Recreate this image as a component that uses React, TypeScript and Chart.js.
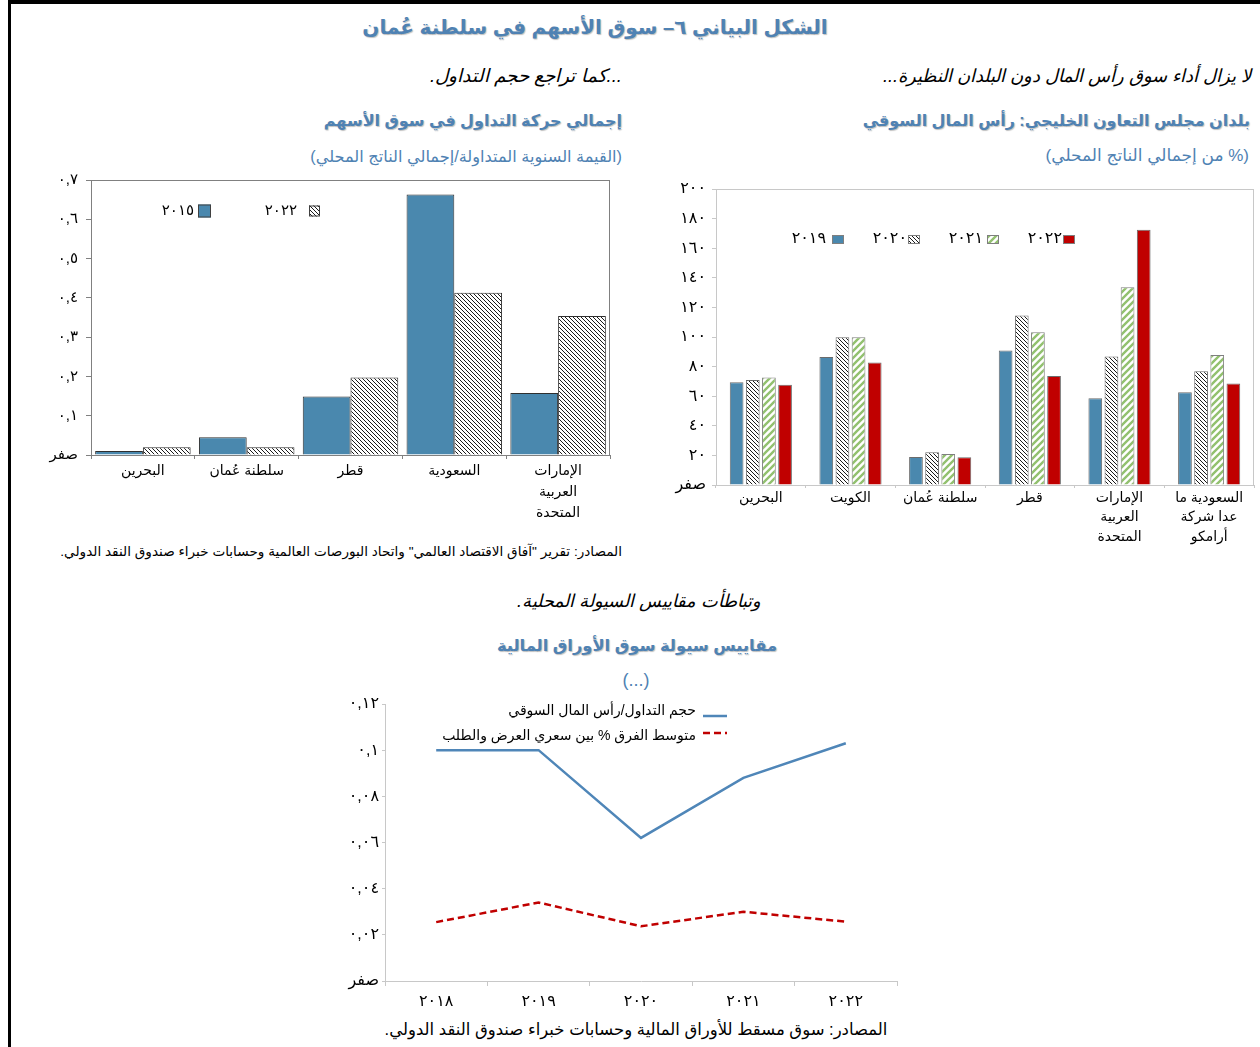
import React, { useEffect, useRef } from 'react';
import { Chart, registerables } from 'chart.js';

Chart.register(...registerables);

const FONT = "Arial, 'DejaVu Sans', sans-serif";

// ---------- Data ----------
const LEFT_CATEGORIES = [['البحرين'], ['سلطنة عُمان'], ['قطر'], ['السعودية'], ['الإمارات', 'العربية', 'المتحدة']];
const LEFT_SERIES = ['٢٠١٥', '٢٠٢٢'];
const LEFT_2015 = [0.01, 0.045, 0.149, 0.663, 0.158];
const LEFT_2022 = [0.02, 0.02, 0.197, 0.413, 0.354];
const LEFT_MAX = 0.7;
const LEFT_STEP = 0.1;

const RIGHT_CATEGORIES = [
  ['البحرين'],
  ['الكويت'],
  ['سلطنة عُمان'],
  ['قطر'],
  ['الإمارات', 'العربية', 'المتحدة'],
  ['السعودية ما', 'عدا شركة', 'أرامكو'],
];
const RIGHT_SERIES = ['٢٠١٩', '٢٠٢٠', '٢٠٢١', '٢٠٢٢'];
const RIGHT_2019 = [69.4, 86.5, 18.9, 90.8, 58.6, 62.6];
const RIGHT_2020 = [70.9, 99.8, 22.1, 114.6, 86.9, 76.8];
const RIGHT_2021 = [72.7, 99.8, 20.9, 103.2, 133.6, 87.8];
const RIGHT_2022 = [67.8, 82.7, 18.7, 73.6, 172.5, 68.5];
const RIGHT_MAX = 200;
const RIGHT_STEP = 20;

const LINE_YEARS = ['٢٠١٨', '٢٠١٩', '٢٠٢٠', '٢٠٢١', '٢٠٢٢'];
const LINE_SERIES = ['حجم التداول/رأس المال السوقي', 'متوسط الفرق % بين سعري العرض والطلب'];
const LINE_TURNOVER = [0.1, 0.1, 0.062, 0.088, 0.103];
const LINE_SPREAD = [0.0255, 0.034, 0.0237, 0.03, 0.0257];
const LINE_MAX = 0.12;
const LINE_STEP = 0.02;

// ---------- Helpers ----------
const AR_DIGITS = '٠١٢٣٤٥٦٧٨٩';
const toArabic = (s: string) => s.replace(/[0-9]/g, (d) => AR_DIGITS[+d]).replace('.', ',');

const BLUE_BAR = '#4a88ae';
const RED_BAR = '#c00000';
const TITLE_BLUE = '#4f82b3';

function hatch(bg: string, fg: string, size: number, lw: number, dir: 'back' | 'fwd') {
  const c = document.createElement('canvas');
  c.width = size;
  c.height = size;
  const x = c.getContext('2d')!;
  x.fillStyle = bg;
  x.fillRect(0, 0, size, size);
  x.strokeStyle = fg;
  x.lineWidth = lw;
  x.beginPath();
  for (const k of [-size, 0, size]) {
    if (dir === 'back') {
      x.moveTo(k - 1, -1);
      x.lineTo(k + size + 1, size + 1);
    } else {
      x.moveTo(k - 1, size + 1);
      x.lineTo(k + size + 1, -1);
    }
  }
  x.stroke();
  const ctx = document.createElement('canvas').getContext('2d')!;
  return ctx.createPattern(c, 'repeat')!;
}

const framePlugin = (color: string) => ({
  id: 'frame',
  beforeDatasetsDraw(chart: any) {
    const { ctx, chartArea: a } = chart;
    ctx.save();
    ctx.strokeStyle = color;
    ctx.lineWidth = 1;
    ctx.strokeRect(Math.round(a.left) + 0.5, Math.round(a.top) + 0.5, Math.round(a.right - a.left) - 1, Math.round(a.bottom - a.top));
    ctx.restore();
  },
});

const fixY = (w: number) => (s: any) => {
  s.width = w;
  s.paddingTop = 0;
  s.paddingBottom = 0;
};
const fixX = (h: number) => (s: any) => {
  s.height = h;
  s.paddingLeft = 0;
  s.paddingRight = 0;
};

// ---------- Chart canvas ----------
function ChartBox({ make, left, top, width, height }: { make: () => any; left: number; top: number; width: number; height: number }) {
  const ref = useRef<HTMLCanvasElement>(null);
  useEffect(() => {
    const chart = new Chart(ref.current!, make());
    return () => chart.destroy();
  }, []);
  return (
    <canvas
      ref={ref}
      width={width}
      height={height}
      style={{ position: 'absolute', left, top, width, height }}
    />
  );
}

function leftConfig() {
  const pat = hatch('#ffffff', '#000000', 4, 0.9, 'back');
  const legend = {
    id: 'leftLegend',
    afterDraw(chart: any) {
      const { ctx, chartArea: a } = chart;
      const slots = [
        { text: 103, box: 107, w: 13, h: 13 },
        { text: 206, box: 218, w: 11, h: 11 },
      ];
      ctx.save();
      ctx.font = `15px ${FONT}`;
      ctx.textAlign = 'right';
      ctx.textBaseline = 'middle';
      chart.data.datasets.forEach((ds: any, i: number) => {
        const s = slots[i];
        const y = a.top + 31;
        ctx.fillStyle = '#000';
        ctx.fillText(ds.label, a.left + s.text, y);
        ctx.fillStyle = ds.backgroundColor;
        ctx.fillRect(a.left + s.box, y - s.h / 2, s.w, s.h);
        ctx.strokeStyle = '#404040';
        ctx.lineWidth = 1;
        ctx.strokeRect(a.left + s.box + 0.5, y - s.h / 2 + 0.5, s.w - 1, s.h - 1);
      });
      ctx.restore();
    },
  };
  return {
    type: 'bar',
    data: {
      labels: LEFT_CATEGORIES,
      datasets: [
        { label: LEFT_SERIES[0], data: LEFT_2015, backgroundColor: BLUE_BAR, borderColor: '#2f2f2f', borderWidth: 1 },
        { label: LEFT_SERIES[1], data: LEFT_2022, backgroundColor: pat, borderColor: '#2f2f2f', borderWidth: 1 },
      ],
    },
    options: {
      animation: false,
      responsive: false,
      devicePixelRatio: 1,
      layout: { padding: { left: 0, top: 10, right: 10, bottom: 0 } },
      datasets: { bar: { categoryPercentage: 0.92, barPercentage: 1.0 } },
      plugins: { legend: { display: false }, tooltip: { enabled: false } },
      scales: {
        x: {
          afterFit: fixX(75),
          grid: { drawOnChartArea: false, drawTicks: true, tickLength: 4, color: '#808080' },
          border: { display: true, color: '#808080' },
          ticks: { color: '#000', font: { family: FONT, size: 14, lineHeight: 1.5 }, padding: 2, maxRotation: 0, autoSkip: false },
        },
        y: {
          min: 0,
          max: LEFT_MAX,
          afterFit: fixY(61),
          grid: { drawOnChartArea: false, drawTicks: true, tickLength: 5, color: '#808080' },
          border: { display: true, color: '#808080' },
          ticks: {
            stepSize: LEFT_STEP,
            color: '#000',
            padding: 8,
            font: { family: FONT, size: 15 },
            callback: (v: number) => (v === 0 ? 'صفر' : toArabic(Number(v).toFixed(1))),
          },
        },
      },
    },
    plugins: [framePlugin('#808080'), legend],
  };
}

function rightConfig() {
  const grayPat = hatch('#ffffff', '#000000', 4, 0.9, 'back');
  const greenPat = hatch('#ffffff', '#92c16f', 7, 2.4, 'fwd');
  const legend = {
    id: 'rightLegend',
    afterDraw(chart: any) {
      const { ctx, chartArea: a } = chart;
      const slots = [
        { text: 110, box: 116 },
        { text: 191, box: 192 },
        { text: 267, box: 271 },
        { text: 346, box: 347 },
      ];
      ctx.save();
      ctx.font = `16px ${FONT}`;
      ctx.textAlign = 'right';
      ctx.textBaseline = 'middle';
      chart.data.datasets.forEach((ds: any, i: number) => {
        const s = slots[i];
        const y = a.top + 50;
        ctx.fillStyle = '#000';
        ctx.fillText(ds.label, a.left + s.text, y);
        ctx.fillStyle = ds.backgroundColor;
        ctx.fillRect(a.left + s.box, y - 4, 12, 9);
        ctx.strokeStyle = '#7f7f7f';
        ctx.lineWidth = 1;
        ctx.strokeRect(a.left + s.box + 0.5, y - 4 + 0.5, 11, 8);
      });
      ctx.restore();
    },
  };
  return {
    type: 'bar',
    data: {
      labels: RIGHT_CATEGORIES,
      datasets: [
        { label: RIGHT_SERIES[0], data: RIGHT_2019, backgroundColor: BLUE_BAR, borderColor: '#6b6b6b', borderWidth: 1 },
        { label: RIGHT_SERIES[1], data: RIGHT_2020, backgroundColor: grayPat, borderColor: '#6b6b6b', borderWidth: 1 },
        { label: RIGHT_SERIES[2], data: RIGHT_2021, backgroundColor: greenPat, borderColor: '#7f7f7f', borderWidth: 1 },
        { label: RIGHT_SERIES[3], data: RIGHT_2022, backgroundColor: RED_BAR, borderColor: '#6b6b6b', borderWidth: 1 },
      ],
    },
    options: {
      animation: false,
      responsive: false,
      devicePixelRatio: 1,
      layout: { padding: { left: 0, top: 9, right: 6, bottom: 0 } },
      datasets: { bar: { categoryPercentage: 0.72, barPercentage: 0.85 } },
      plugins: { legend: { display: false }, tooltip: { enabled: false } },
      scales: {
        x: {
          afterFit: fixX(75),
          grid: { drawOnChartArea: false, drawTicks: true, tickLength: 3, color: '#c8c8c8' },
          border: { display: true, color: '#c8c8c8' },
          ticks: { color: '#000', font: { family: FONT, size: 14, lineHeight: 1.4 }, padding: 0, maxRotation: 0, autoSkip: false },
        },
        y: {
          min: 0,
          max: RIGHT_MAX,
          afterFit: fixY(56),
          grid: { drawOnChartArea: false, drawTicks: true, tickLength: 4, color: '#c8c8c8' },
          border: { display: true, color: '#c8c8c8' },
          ticks: {
            stepSize: RIGHT_STEP,
            color: '#000',
            padding: 6,
            font: { family: FONT, size: 16 },
            callback: (v: number) => (v === 0 ? 'صفر' : toArabic(String(Math.round(v)))),
          },
        },
      },
    },
    plugins: [framePlugin('#c8c8c8'), legend],
  };
}

function lineConfig() {
  const legend = {
    id: 'lineLegend',
    afterDraw(chart: any) {
      const { ctx, chartArea: a } = chart;
      const rows = [
        { ty: 7, ly: 12 },
        { ty: 32, ly: 29 },
      ];
      ctx.save();
      ctx.font = `14px ${FONT}`;
      ctx.textAlign = 'right';
      ctx.textBaseline = 'middle';
      (ctx as any).direction = 'rtl';
      chart.data.datasets.forEach((ds: any, i: number) => {
        const r = rows[i];
        ctx.fillStyle = '#000';
        ctx.fillText(ds.label, a.left + 311, a.top + r.ty);
        ctx.strokeStyle = ds.borderColor;
        ctx.lineWidth = ds.borderWidth;
        ctx.setLineDash(ds.borderDash || []);
        ctx.beginPath();
        ctx.moveTo(a.left + 318, a.top + r.ly);
        ctx.lineTo(a.left + 342, a.top + r.ly);
        ctx.stroke();
      });
      ctx.restore();
    },
  };
  return {
    type: 'line',
    data: {
      labels: LINE_YEARS,
      datasets: [
        { label: LINE_SERIES[0], data: LINE_TURNOVER, borderColor: '#4f86b8', borderWidth: 2.5, pointRadius: 0, tension: 0, fill: false },
        { label: LINE_SERIES[1], data: LINE_SPREAD, borderColor: '#c00000', borderWidth: 2.5, borderDash: [7, 4], pointRadius: 0, tension: 0, fill: false },
      ],
    },
    options: {
      animation: false,
      responsive: false,
      devicePixelRatio: 1,
      layout: { padding: { left: 0, top: 9, right: 13, bottom: 0 } },
      plugins: { legend: { display: false }, tooltip: { enabled: false } },
      scales: {
        x: {
          offset: true,
          afterFit: fixX(34),
          grid: { offset: true, drawOnChartArea: false, drawTicks: true, tickLength: 5, color: '#c8c8c8' },
          border: { display: true, color: '#c8c8c8' },
          ticks: { color: '#000', font: { family: FONT, size: 16 }, padding: 6, maxRotation: 0, autoSkip: false },
        },
        y: {
          min: 0,
          max: LINE_MAX,
          afterFit: fixY(55),
          grid: { drawOnChartArea: false, drawTicks: true, tickLength: 3, color: '#c8c8c8' },
          border: { display: true, color: '#c8c8c8' },
          ticks: {
            stepSize: LINE_STEP,
            color: '#000',
            padding: 3,
            font: { family: FONT, size: 16 },
            callback: (v: number) => (v === 0 ? 'صفر' : toArabic(String(parseFloat(Number(v).toFixed(2))))),
          },
        },
      },
    },
    plugins: [legend],
  };
}

// ---------- Text ----------
function T({
  children, x, y, align = 'right', size = 16, bold = false, italic = false, color = '#000', shadow = false,
}: {
  children: React.ReactNode; x: number; y: number; align?: 'right' | 'center'; size?: number; bold?: boolean; italic?: boolean; color?: string; shadow?: boolean;
}) {
  const lh = Math.round(size * 1.4);
  const base: React.CSSProperties = {
    position: 'absolute',
    top: y - lh / 2,
    lineHeight: `${lh}px`,
    fontSize: size,
    fontFamily: FONT,
    fontWeight: bold ? 700 : 400,
    fontStyle: italic ? 'italic' : 'normal',
    color,
    whiteSpace: 'nowrap',
    direction: 'rtl',
    textShadow: shadow ? '1px 1px 1px rgba(0,0,0,0.25)' : undefined,
  };
  if (align === 'right') {
    base.right = 1260 - x;
  } else {
    base.left = x - 400;
    base.width = 800;
    base.textAlign = 'center';
  }
  return <div style={base}>{children}</div>;
}

export default function App() {
  return (
    <div style={{ position: 'absolute', left: 0, top: 0, width: 1260, height: 1047, overflow: 'hidden', background: '#fff' }}>
      <div style={{ position: 'absolute', left: 9, top: 0, width: 1251, height: 4, background: '#000' }} />
      <div style={{ position: 'absolute', left: 8, top: 0, width: 3, height: 1047, background: '#000' }} />

      <T x={595} y={27} align="center" size={20} bold color={TITLE_BLUE} shadow>الشكل البياني ٦– سوق الأسهم في سلطنة عُمان</T>

      <T x={1251} y={76} size={18} italic>لا يزال أداء سوق رأس المال دون البلدان النظيرة...</T>
      <T x={622} y={76} size={18.5} italic>...كما تراجع حجم التداول.</T>

      <T x={1250} y={121} size={16} bold color={TITLE_BLUE} shadow>بلدان مجلس التعاون الخليجي: رأس المال السوقي</T>
      <T x={622} y={121} size={16} bold color={TITLE_BLUE} shadow>إجمالي حركة التداول في سوق الأسهم</T>

      <T x={1249} y={156} size={17} color={TITLE_BLUE}>(% من إجمالي الناتج المحلي)</T>
      <T x={622} y={156} size={16.2} color={TITLE_BLUE}>(القيمة السنوية المتداولة/إجمالي الناتج المحلي)</T>

      <ChartBox make={leftConfig} left={30} top={170} width={590} height={360} />
      <ChartBox make={rightConfig} left={660} top={180} width={600} height={380} />

      <T x={622} y={551} size={13.6}>المصادر: تقرير "آفاق الاقتصاد العالمي" واتحاد البورصات العالمية وحسابات خبراء صندوق النقد الدولي.</T>

      <T x={639} y={601} align="center" size={17.8} italic>وتباطأت مقاييس السيولة المحلية.</T>
      <T x={637} y={645} align="center" size={16.3} bold color={TITLE_BLUE} shadow>مقاييس سيولة سوق الأوراق المالية</T>
      <T x={636} y={680} align="center" size={18} color={TITLE_BLUE}>(...)</T>

      <ChartBox make={lineConfig} left={330} top={695} width={580} height={320} />

      <T x={636} y={1029} align="center" size={16.5}>المصادر: سوق مسقط للأوراق المالية وحسابات خبراء صندوق النقد الدولي.</T>
    </div>
  );
}
